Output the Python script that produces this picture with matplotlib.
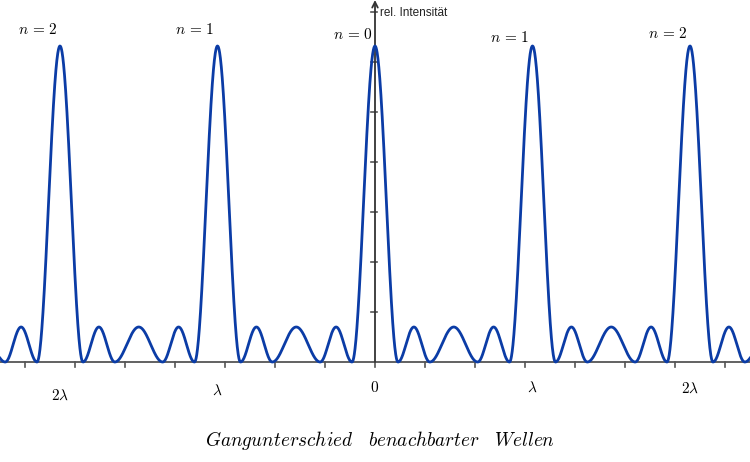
import numpy as np
import matplotlib
matplotlib.use("Agg")
from matplotlib import pyplot as plt

plt.rcParams['mathtext.fontset'] = 'cm'

# Werte aus dem Bild (Achseneinheiten: 1 Teilstrich = 1)
wavelength = 3.15                        # Abstand der Hauptmaxima
orders = [-2, -1, 0, 1, 2]
order_labels = [r'$n\,=\,2$', r'$n\,=\,1$', r'$n\,=\,0$', r'$n\,=\,1$', r'$n\,=\,2$']
order_label_y = [6.64, 6.64, 6.55, 6.50, 6.58]
main_height = 6.32                       # Höhe der Hauptmaxima
zeros = [0.146, 0.348, 0.652, 0.854]     # Nullstellen in Bruchteilen von lambda
side_heights = [0.70, 0.70, 0.70]        # Höhe der Nebenmaxima
tick_labels = [r'$2\lambda$', r'$\lambda$', '$0$', r'$\lambda$', r'$2\lambda$']
tick_label_y = [-0.66, -0.56, -0.52, -0.50, -0.52]

color = '#0b3ca6'


def intensity(x):
    phase = np.mod(x / wavelength, 1.0)
    y = np.zeros_like(x)
    d = np.minimum(phase, 1 - phase)
    main = d < zeros[0]
    y[main] = main_height * np.cos(np.pi / 2 * d[main] / zeros[0]) ** 2
    for k, h in enumerate(side_heights):
        a, b = zeros[k], zeros[k + 1]
        m = (phase >= a) & (phase < b)
        y[m] = h * np.sin(np.pi * (phase[m] - a) / (b - a)) ** 2
    return y


fig = plt.figure(figsize=(7.5, 4.62), dpi=100)
ax = fig.add_axes([0, 0, 1, 1])
ax.set_xlim(-7.5, 7.5)
ax.set_ylim(-2.0, 7.24)
ax.axis('off')

# Achsen
axis_col = '#555555'
ax.plot([-7.5, 7.5], [0, 0], color=axis_col, lw=1.3, zorder=1)
ax.annotate('', xy=(0, 7.24), xytext=(0, 0),
            arrowprops=dict(arrowstyle='->', color='#333333', lw=1.3,
                            shrinkA=0, shrinkB=0))
for t in range(-7, 8):
    ax.plot([t, t], [0, -0.09], color=axis_col, lw=1.2)
for t in range(1, 8):
    ax.plot([-0.09, 0.03], [t, t], color=axis_col, lw=1.2)

x = np.linspace(-7.5, 7.5, 4000)
ax.plot(x, intensity(x), color=color, lw=2.0, zorder=3)

for o, lab, yl in zip(orders, order_labels, order_label_y):
    ax.text(o * wavelength - 0.45, yl, lab, fontsize=11, ha='center', va='center')

for o, lab, yl in zip(orders, tick_labels, tick_label_y):
    ax.text(o * wavelength, yl, lab, fontsize=11, ha='center', va='center')

ax.text(0.1, 6.98, 'rel. Intensität', fontsize=8.5, family='Liberation Sans',
        ha='left', va='center', color='#222222')
ax.text(0.1, -1.58, r'$Gangunterschied\quad benachbarter\quad Wellen$',
        fontsize=13.8, ha='center', va='center')

fig.savefig('out.png', dpi=100)
